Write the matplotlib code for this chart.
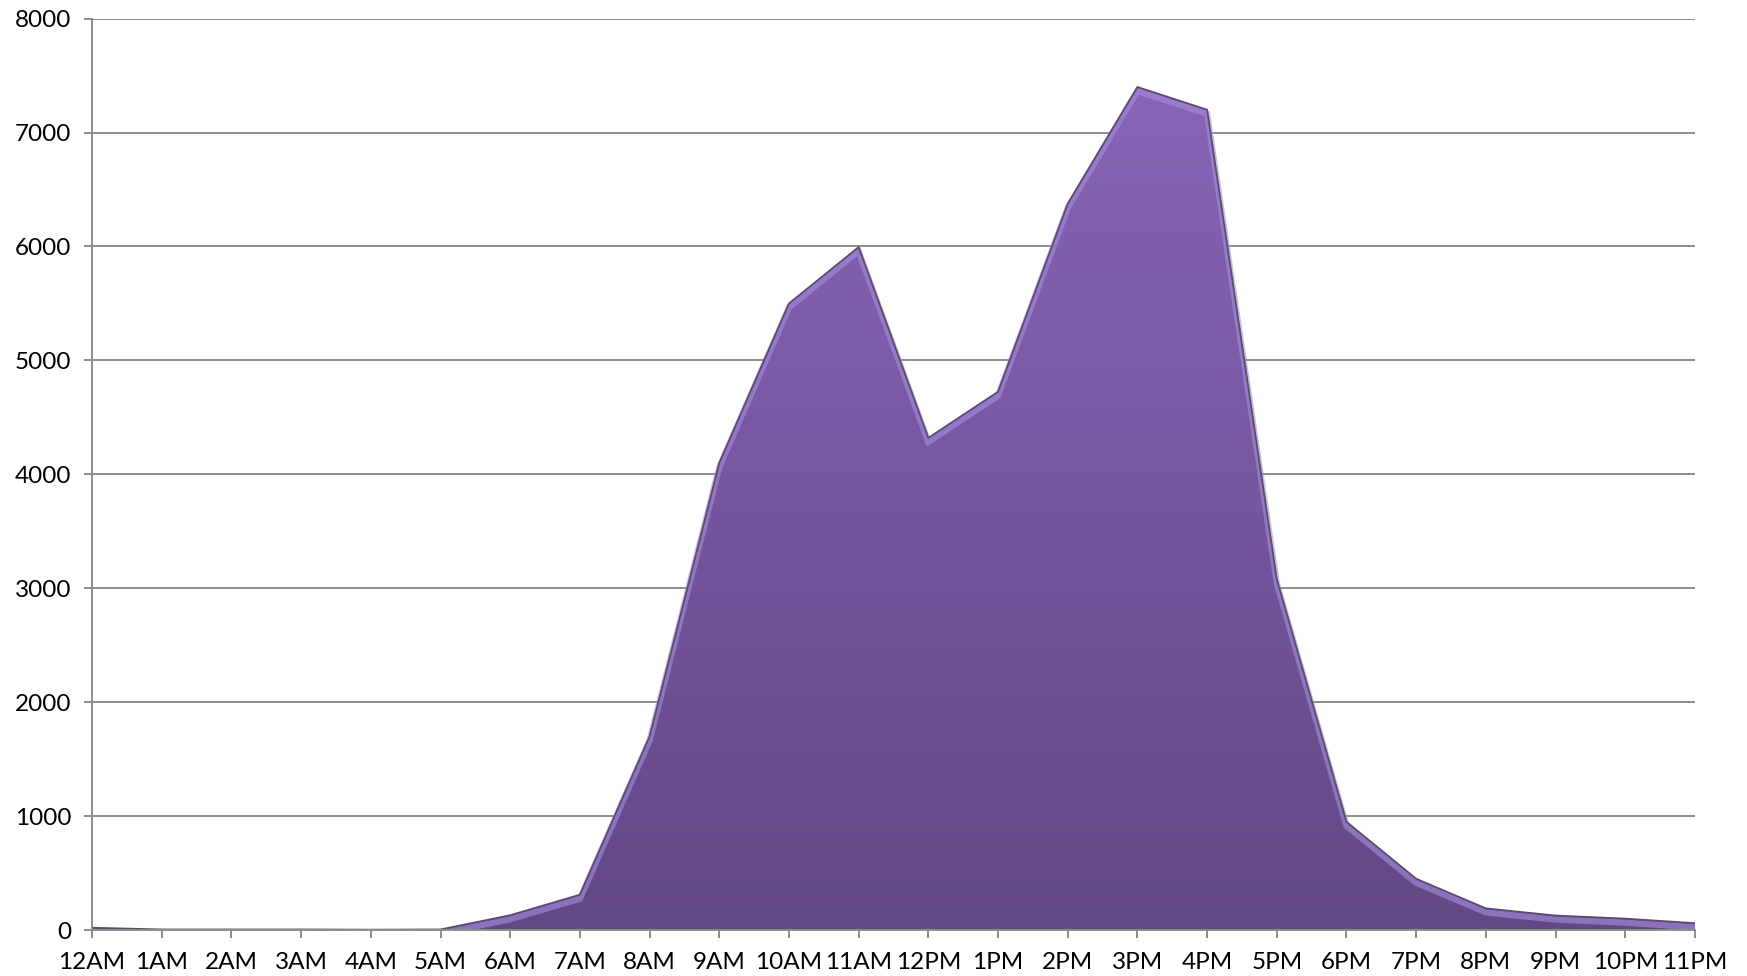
import numpy as np
import matplotlib
matplotlib.use('Agg')
import matplotlib.pyplot as plt
from matplotlib.colors import LinearSegmentedColormap
from matplotlib.patches import Polygon
from matplotlib.transforms import offset_copy

plt.rcParams['font.family'] = ['Lato', 'DejaVu Sans']
plt.rcParams['font.size'] = 17.5

hours = ['12AM', '1AM', '2AM', '3AM', '4AM', '5AM', '6AM', '7AM', '8AM', '9AM',
         '10AM', '11AM', '12PM', '1PM', '2PM', '3PM', '4PM', '5PM', '6PM', '7PM',
         '8PM', '9PM', '10PM', '11PM']
counts = [20, 5, 5, 5, 3, 5, 130, 310, 1700, 4100,
          5500, 5995, 4320, 4725, 6375, 7400, 7200, 3080, 950, 450,
          190, 127, 100, 60]


def main():
    fig = plt.figure(figsize=(17.47, 9.76), dpi=100)
    ax = fig.add_axes([0.0527, 0.0471, 0.9175, 0.9338])
    x = np.arange(len(hours))
    y = np.array(counts)

    ax.set_xlim(0, len(hours) - 1)
    ax.set_ylim(0, 8000)

    # gradient fill clipped to the area polygon
    cmap = LinearSegmentedColormap.from_list('purp', ['#634886', '#8a66ba'])
    grad = np.linspace(0, 1, 256).reshape(-1, 1)
    img = ax.imshow(grad, cmap=cmap, origin='lower', aspect='auto',
                    extent=[0, len(hours) - 1, 0, 8000], zorder=2)
    verts = np.vstack([np.column_stack([x, y]), [[x[-1], 0], [0, 0]]])
    poly = Polygon(verts, closed=True, facecolor='none', edgecolor='none')
    ax.add_patch(poly)
    img.set_clip_path(poly)

    # bevel highlight just inside the top edge
    hl = offset_copy(ax.transData, fig=fig, x=0, y=-4, units='dots')
    ax.plot(x, y, color='#a88de0', lw=4.5, alpha=0.6, transform=hl,
            zorder=3, solid_joinstyle='miter')
    ax.plot(x, y, color='#555063', lw=1.3, zorder=4)

    ax.set_yticks(np.arange(0, 8001, 1000))
    ax.set_xticks(x)
    ax.set_xticklabels(hours)
    ax.yaxis.grid(True, color='#8c8c8c', lw=1.4)
    ax.set_axisbelow(True)

    for s in ['top', 'right']:
        ax.spines[s].set_visible(False)
    for s in ['left', 'bottom']:
        ax.spines[s].set_color('#8c8c8c')
        ax.spines[s].set_linewidth(1.4)
        ax.spines[s].set_zorder(5)
    ax.tick_params(axis='both', colors='#8c8c8c', length=6, width=1.4,
                   labelcolor='black')
    ax.tick_params(axis='x', pad=10)
    ax.tick_params(axis='y', pad=9)

    fig.savefig('out.png', dpi=100)


if __name__ == '__main__':
    main()
